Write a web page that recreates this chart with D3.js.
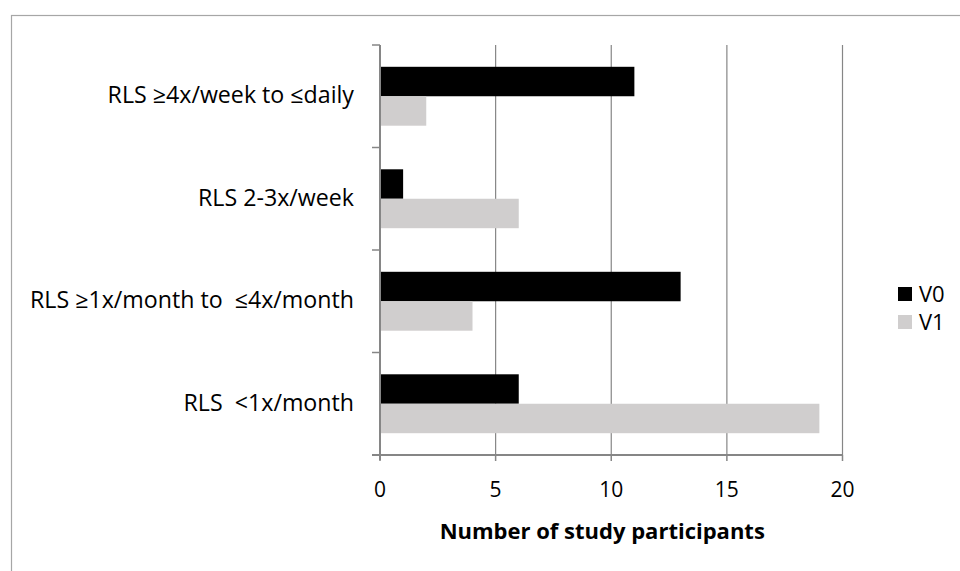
<!DOCTYPE html>
<html>
<head>
<meta charset="utf-8">
<script src="https://cdn.jsdelivr.net/npm/d3@7"></script>
<style>
  html, body { margin: 0; padding: 0; background: #fff; }
  svg { display: block; font-family: "Open Sans", Lato, sans-serif; }
</style>
</head>
<body>
<svg id="chart" width="960" height="571"></svg>
<script>
// Frequency categories, top to bottom
const categories = [
  "RLS \u22654x/week to \u2264daily",
  "RLS 2-3x/week",
  "RLS \u22651x/month to  \u22644x/month",
  "RLS  <1x/month"
];
const seriesNames = ["V0", "V1"];
const v0Values = [11, 1, 13, 6];
const v1Values = [2, 6, 4, 19];
const xTicks = [0, 5, 10, 15, 20];
const xTitle = "Number of study participants";
const seriesColors = ["#000000", "#d0cece"];

const rows = categories.map((c, i) => ({ cat: c, V0: v0Values[i], V1: v1Values[i] }));

const svg = d3.select("#chart");

// outer chart frame
svg.append("rect")
  .attr("x", 11.5).attr("y", 15.5)
  .attr("width", 970).attr("height", 600)
  .attr("fill", "none").attr("stroke", "#a6a6a6").attr("stroke-width", 1.2);

const plot = { left: 380, right: 842.5, top: 45, bottom: 455 };

const x = d3.scaleLinear().domain([0, 20]).range([plot.left, plot.right]);
const y = d3.scaleBand().domain(categories).range([plot.top, plot.bottom]).padding(0);
const ySub = d3.scaleBand().domain(seriesNames).range([0, y.bandwidth()])
  .paddingInner(0).paddingOuter(0.74);

// vertical gridlines
svg.append("g").selectAll("line")
  .data(xTicks.filter(t => t > 0))
  .join("line")
  .attr("x1", d => x(d)).attr("x2", d => x(d))
  .attr("y1", plot.top).attr("y2", plot.bottom)
  .attr("stroke", "#868686").attr("stroke-width", 1.2);

// bars
const groups = svg.append("g").selectAll("g")
  .data(rows)
  .join("g")
  .attr("transform", d => `translate(0,${y(d.cat)})`);

groups.selectAll("rect")
  .data(d => seriesNames.map((s, i) => ({ s, i, v: d[s] })))
  .join("rect")
  .attr("x", x(0))
  .attr("y", d => ySub(d.s))
  .attr("width", d => x(d.v) - x(0))
  .attr("height", ySub.bandwidth())
  .attr("fill", d => seriesColors[d.i]);

// y axis: ticks on band boundaries
const yAxis = svg.append("g");
yAxis.append("line")
  .attr("x1", plot.left).attr("x2", plot.left)
  .attr("y1", plot.top).attr("y2", plot.bottom + 5)
  .attr("stroke", "#868686").attr("stroke-width", 2);
const boundaries = categories.map(c => y(c)).concat([plot.bottom]);
yAxis.selectAll("line.tick")
  .data(boundaries)
  .join("line").attr("class", "tick")
  .attr("x1", plot.left - 8).attr("x2", plot.left)
  .attr("y1", d => d).attr("y2", d => d)
  .attr("stroke", "#868686").attr("stroke-width", 1.5);
yAxis.selectAll("text")
  .data(categories)
  .join("text")
  .attr("x", 354)
  .attr("y", d => y(d) + y.bandwidth() / 2)
  .attr("dy", "0.3em")
  .attr("text-anchor", "end")
  .attr("font-size", 23.2)
  .attr("fill", "#000")
  .style("white-space", "pre")
  .text(d => d);

// x axis
const xAxis = svg.append("g");
xAxis.append("line")
  .attr("x1", plot.left - 8).attr("x2", plot.right)
  .attr("y1", plot.bottom).attr("y2", plot.bottom)
  .attr("stroke", "#868686").attr("stroke-width", 2);
xAxis.selectAll("line.tick")
  .data(xTicks)
  .join("line").attr("class", "tick")
  .attr("x1", d => x(d)).attr("x2", d => x(d))
  .attr("y1", plot.bottom).attr("y2", plot.bottom + 6)
  .attr("stroke", "#868686").attr("stroke-width", 1.5);
xAxis.selectAll("text")
  .data(xTicks)
  .join("text")
  .attr("x", d => x(d))
  .attr("y", 497)
  .attr("text-anchor", "middle")
  .attr("font-size", 21)
  .attr("fill", "#000")
  .text(d => d);

svg.append("text")
  .attr("x", (plot.left + plot.right) / 2 - 9)
  .attr("y", 539)
  .attr("text-anchor", "middle")
  .attr("font-size", 22)
  .attr("font-weight", "bold")
  .attr("fill", "#000")
  .text(xTitle);

// legend
const legend = svg.append("g").selectAll("g")
  .data(seriesNames)
  .join("g")
  .attr("transform", (d, i) => `translate(898,${294 + i * 28})`);
legend.append("rect")
  .attr("x", 0).attr("y", -7)
  .attr("width", 14).attr("height", 14)
  .attr("fill", (d, i) => seriesColors[i]);
legend.append("text")
  .attr("x", 21).attr("y", 0).attr("dy", "0.35em")
  .attr("font-size", 22)
  .attr("fill", "#000")
  .text(d => d);
</script>
</body>
</html>
